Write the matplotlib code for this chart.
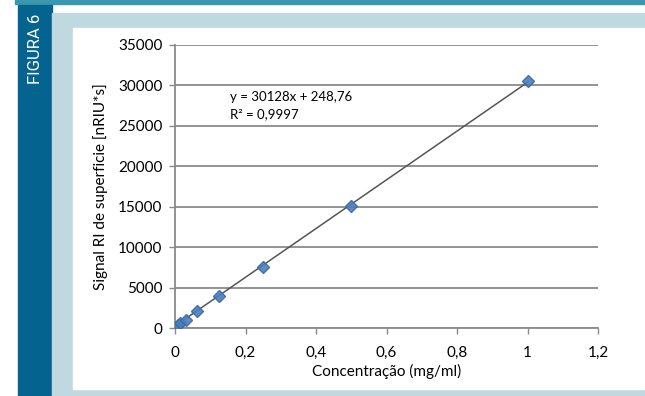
import matplotlib
matplotlib.use('Agg')
import matplotlib.pyplot as plt
from matplotlib.patches import Rectangle
from matplotlib.ticker import FuncFormatter
import numpy as np

# calibration data
conc = [0.0078, 0.0156, 0.03125, 0.0625, 0.125, 0.25, 0.5, 1.0]
signal = [350, 600, 1000, 2100, 4000, 7600, 15100, 30600]
slope, intercept = 30128, 248.76
eq_lines = ['y = 30128x + 248,76', 'R² = 0,9997']
xticks = [0, 0.2, 0.4, 0.6, 0.8, 1.0, 1.2]
yticks = [0, 5000, 10000, 15000, 20000, 25000, 30000, 35000]

W, H = 645, 396
fig = plt.figure(figsize=(W / 100, H / 100), dpi=100)
plt.rcParams['font.family'] = ['Lato', 'DejaVu Sans']


def px_rect(x0, y0, x1, y1, color):
    # rectangle given in pixel coords (origin top-left)
    fig.patches.append(Rectangle((x0 / W, 1 - y1 / H), (x1 - x0) / W, (y1 - y0) / H,
                                 transform=fig.transFigure, color=color, zorder=-10))


px_rect(15, 0, W, 4, '#3a98ae')       # teal band on top
px_rect(18, 5, 52, H, '#05648f')      # dark blue side bar
px_rect(52, 13, W, H, '#bfd9e0')      # light blue frame
px_rect(73, 28, W, 389, 'white')      # chart panel

fig.text(35 / W, 1 - 14 / H, 'FIGURA 6', rotation=90, color='white',
         fontsize=12, ha='center', va='top', family=['Roboto', 'DejaVu Sans'])

ax = fig.add_axes([175 / W, 1 - 328 / H, (598 - 175) / W, (328 - 45) / H])
ax.set_zorder(5)
ax.set_facecolor('none')

xs = np.array([0, max(conc)])
ax.plot(xs, slope * xs + intercept, color='#555555', lw=1.1, zorder=2)
ax.plot(conc, signal, linestyle='none', marker='D', markersize=6.5,
        color='#4a7ebb', markeredgecolor='#3a6aa8', alpha=0.9, zorder=3)

ax.set_xlim(0, 1.2)
ax.set_ylim(0, 35000)
ax.set_xticks(xticks)
ax.set_yticks(yticks)
ax.xaxis.set_major_formatter(FuncFormatter(lambda v, p: ('%g' % v).replace('.', ',')))
ax.yaxis.set_major_formatter(FuncFormatter(lambda v, p: '%d' % v))
ax.grid(axis='y', color='#8a8a8a', lw=1.3)
ax.set_axisbelow(True)
for s in ['top', 'right']:
    ax.spines[s].set_visible(False)
for s in ['left', 'bottom']:
    ax.spines[s].set_color('#8a8a8a')
    ax.spines[s].set_linewidth(1.3)
ax.tick_params(axis='both', colors='#8a8a8a', labelcolor='black', labelsize=11,
               length=4, width=1)
ax.tick_params(axis='y', pad=5)
ax.tick_params(axis='x', pad=9)

ax.set_xlabel('Concentração (mg/ml)', fontsize=11, labelpad=3)
ax.set_ylabel('Signal RI de superficie [nRIU*s]', fontsize=11, labelpad=7)

ax.text(0.155, 28600, eq_lines[0], fontsize=9.5, va='center')
ax.text(0.155, 26500, eq_lines[1], fontsize=9.5, va='center')

fig.savefig('out.png', dpi=100)
